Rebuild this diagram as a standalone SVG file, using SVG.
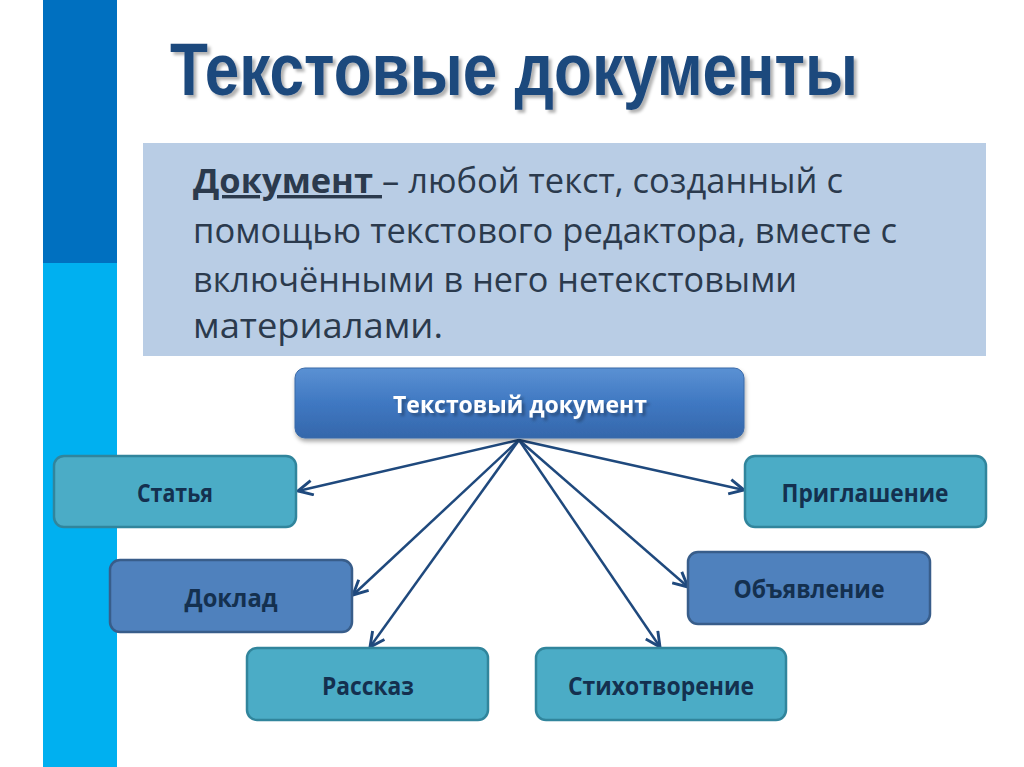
<svg xmlns="http://www.w3.org/2000/svg" width="1024" height="767" viewBox="0 0 1024 767">
<defs>
<style>
.nl{font-family:"Open Sans","Liberation Sans",sans-serif;font-weight:bold;font-size:25px;fill:#14304f;text-anchor:middle}
.teal{fill:#4bacc6;stroke:#31859c;stroke-width:2.5}
.blue{fill:#4f81bd;stroke:#385d8a;stroke-width:2.5}
.def{font-family:"Open Sans","Liberation Sans",sans-serif;font-size:34px;fill:#2b3a4d}
.con{stroke:#1f497d;stroke-width:2.5;fill:none;marker-end:url(#ah)}
</style>
<marker id="ah" viewBox="0 0 12 12" refX="11" refY="6" markerWidth="7" markerHeight="7" orient="auto" markerUnits="strokeWidth">
<path d="M1,1 L11,6 L1,11" fill="none" stroke="#1f497d" stroke-width="2"/>
</marker>
<linearGradient id="hubg" x1="0" y1="0" x2="0" y2="1">
<stop offset="0" stop-color="#5b91d3"/>
<stop offset="0.5" stop-color="#3f78c2"/>
<stop offset="1" stop-color="#3567ab"/>
</linearGradient>
<filter id="sh" x="-10%" y="-20%" width="120%" height="150%">
<feDropShadow dx="1" dy="3" stdDeviation="2" flood-color="#000" flood-opacity="0.35"/>
</filter>
<filter id="tsh" x="-5%" y="-20%" width="110%" height="150%">
<feDropShadow dx="3" dy="3" stdDeviation="1.5" flood-color="#000" flood-opacity="0.3"/>
</filter>
</defs>
<rect width="1024" height="767" fill="#ffffff"/>
<g id="sidebar">
<rect x="43" y="0" width="74" height="263" fill="#0070c0"/>
<rect x="43" y="263" width="74" height="504" fill="#00b0f0"/>
</g>
<g id="title">
<text x="170" y="95" font-family="'Liberation Sans',Arial,sans-serif" font-weight="bold" font-size="74" fill="#1f497d" textLength="688" lengthAdjust="spacingAndGlyphs" filter="url(#tsh)">Текстовые документы</text>
</g>
<g id="definition">
<rect x="143" y="143" width="843" height="213" fill="#b9cde5"/>
<text class="def" x="193" y="193" textLength="650" lengthAdjust="spacingAndGlyphs"><tspan font-weight="bold" text-decoration="underline">Документ </tspan>– любой текст, созданный с</text>
<text class="def" x="193" y="243" textLength="704" lengthAdjust="spacingAndGlyphs">помощью текстового редактора, вместе с</text>
<text class="def" x="193" y="292" textLength="604" lengthAdjust="spacingAndGlyphs">включёнными в него нетекстовыми</text>
<text class="def" x="193" y="338" textLength="250" lengthAdjust="spacingAndGlyphs">материалами.</text>
</g>
<g id="connectors">
<line class="con" x1="519" y1="440" x2="298" y2="491"/>
<line class="con" x1="519" y1="440" x2="744" y2="490"/>
<line class="con" x1="519" y1="440" x2="353" y2="595"/>
<line class="con" x1="519" y1="440" x2="688" y2="587"/>
<line class="con" x1="519" y1="440" x2="370" y2="647"/>
<line class="con" x1="519" y1="440" x2="660" y2="647"/>
</g>
<g id="hub">
<rect x="295" y="368" width="449" height="70" rx="10" fill="url(#hubg)" stroke="#3a6aa8" stroke-width="1" filter="url(#sh)"/>
<text x="520" y="413" font-family="'Open Sans','Liberation Sans',sans-serif" font-weight="bold" font-size="24" fill="#ffffff" text-anchor="middle" textLength="254" lengthAdjust="spacingAndGlyphs" filter="url(#tsh)">Текстовый документ</text>
</g>
<g id="n-statya">
<rect class="teal" x="54" y="456" width="242" height="71" rx="10"/>
<text class="nl" x="175" y="502" textLength="76" lengthAdjust="spacingAndGlyphs">Статья</text>
</g>
<g id="n-priglashenie">
<rect class="teal" x="745" y="456" width="241" height="71" rx="10"/>
<text class="nl" x="865" y="502" textLength="167" lengthAdjust="spacingAndGlyphs">Приглашение</text>
</g>
<g id="n-doklad">
<rect class="blue" x="110" y="560" width="242" height="72" rx="10"/>
<text class="nl" x="231" y="607" textLength="93" lengthAdjust="spacingAndGlyphs">Доклад</text>
</g>
<g id="n-obyavlenie">
<rect class="blue" x="688" y="552" width="242" height="72" rx="10"/>
<text class="nl" x="809" y="598" textLength="151" lengthAdjust="spacingAndGlyphs">Объявление</text>
</g>
<g id="n-rasskaz">
<rect class="teal" x="247" y="648" width="241" height="72" rx="10"/>
<text class="nl" x="368" y="695" textLength="92" lengthAdjust="spacingAndGlyphs">Рассказ</text>
</g>
<g id="n-stihotvorenie">
<rect class="teal" x="536" y="648" width="250" height="72" rx="10"/>
<text class="nl" x="661" y="695" textLength="186" lengthAdjust="spacingAndGlyphs">Стихотворение</text>
</g>
</svg>
